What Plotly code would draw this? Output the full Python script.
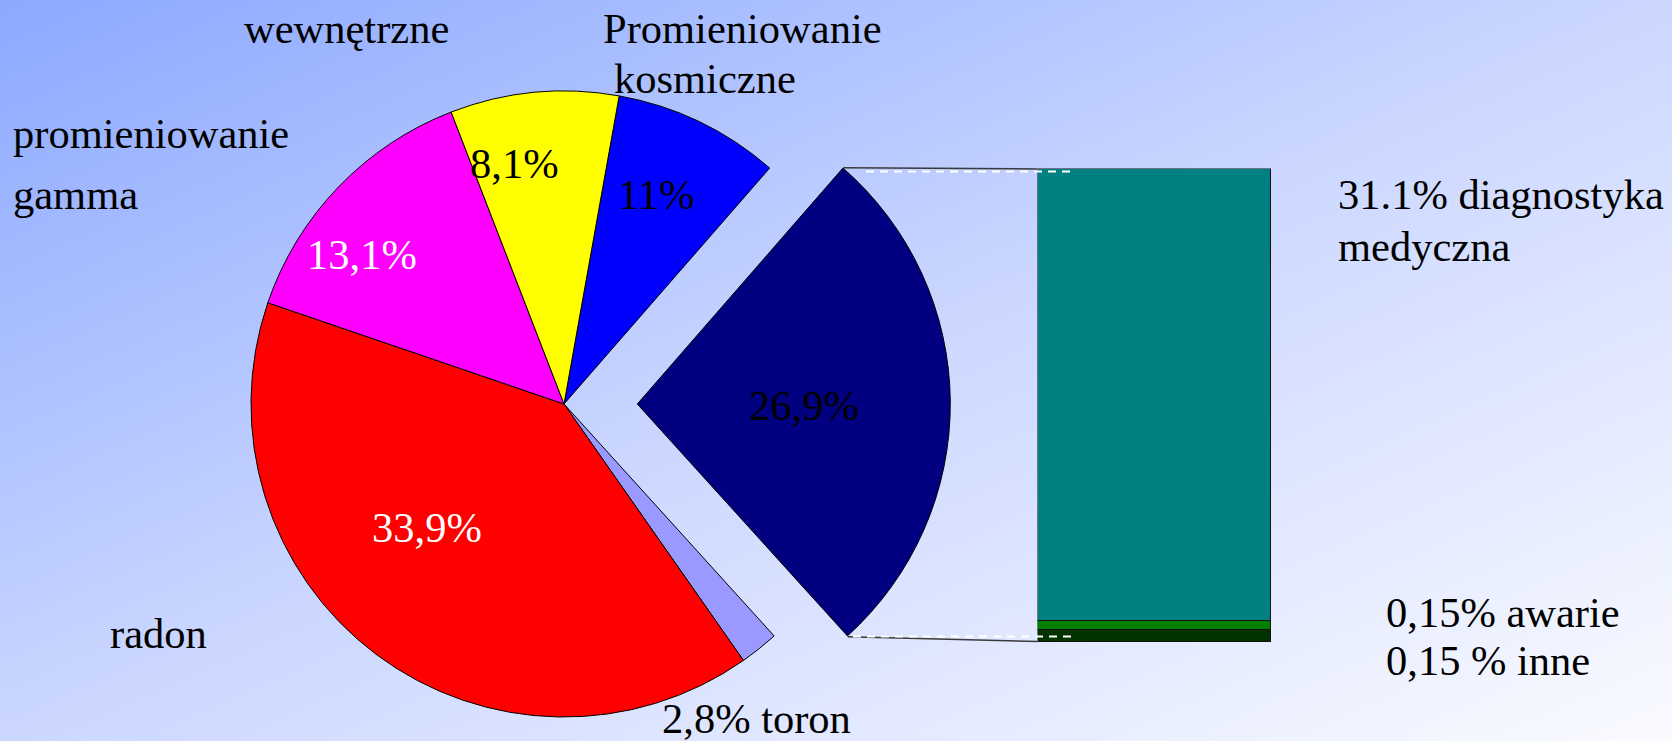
import base64
import plotly.graph_objects as go

W, H = 1672, 741

# ---------------- data ----------------
# pie slices, in clockwise order starting at the top (shares read off the drawn angles)
pie_labels = ["Promieniowanie kosmiczne", "medyczne", "toron", "radon",
              "promieniowanie gamma", "wewnętrzne"]
pie_values = [8.6, 26.9, 2.0, 40.0, 13.9, 8.7]
pie_texts = ["11%", "26,9%", "2,8%", "33,9%", "13,1%", "8,1%"]
exploded_label = "medyczne"

# bar of the exploded slice, bottom to top (heights)
bar_labels = ["inne", "awarie", "diagnostyka medyczna"]
bar_values = [2.7, 1.8, 95.5]

# outer text labels
outer_texts = ["wewnętrzne", "Promieniowanie", "kosmiczne", "promieniowanie", "gamma",
               "radon", "2,8% toron", "31.1% diagnostyka", "medyczna",
               "0,15% awarie", "0,15 % inne"]

# ---------------- styles ----------------
pie_colors = ["#0000FF", "#000080", "#9999FF", "#FF0000", "#FF00FF", "#FFFF00"]
pie_text_colors = ["black", "black", "black", "white", "white", "black"]
bar_colors = ["#003300", "#008000", "#008080"]
FONT = "Liberation Serif"
FS = 42.5


def px(x, y):
    return x / W, 1 - y / H


fig = go.Figure()

# pie geometry (pixels)
cx, cy, r = 564, 404, 313
pull_px = 73.3
ex = pie_labels.index(exploded_label)
n = len(pie_values)
TR = "rgba(0,0,0,0)"


def pie_domain(cxp):
    return dict(x=[(cxp - r) / W, (cxp + r) / W], y=[1 - (cy + r) / H, 1 - (cy - r) / H])


# main pie without the exploded slice
fig.add_trace(go.Pie(
    labels=pie_labels, values=pie_values, sort=False, direction="clockwise", rotation=10.15,
    marker=dict(colors=[TR if i == ex else c for i, c in enumerate(pie_colors)],
                line=dict(color="black", width=[0 if i == ex else 1 for i in range(n)])),
    textinfo="none", hoverinfo="skip", showlegend=False, domain=pie_domain(cx)))

# exploded slice
fig.add_trace(go.Pie(
    labels=pie_labels, values=pie_values, sort=False, direction="clockwise", rotation=10.15,
    marker=dict(colors=[c if i == ex else TR for i, c in enumerate(pie_colors)],
                line=dict(color="black", width=[1 if i == ex else 0 for i in range(n)])),
    textinfo="none", hoverinfo="skip", showlegend=False, domain=pie_domain(cx + pull_px)))

# stacked bar
for lab, v, c in zip(bar_labels, bar_values, bar_colors):
    fig.add_trace(go.Bar(x=[0], y=[v], name=lab, width=1,
                         marker=dict(color=c, line=dict(color="#101010", width=1.3)),
                         hoverinfo="skip", showlegend=False))

bx0, bx1, by0, by1 = 1037.5, 1271, 168.5, 642
fig.update_layout(
    barmode="stack",
    xaxis=dict(domain=[bx0 / W, bx1 / W], range=[-0.5, 0.5], visible=False, fixedrange=True),
    yaxis=dict(domain=[1 - by1 / H, 1 - by0 / H], range=[0, sum(bar_values)], visible=False,
               fixedrange=True),
)

shapes = []
# connector lines
for (x0, y0, x1, y1) in [(843.3, 167.7, bx0, by0 + 0.5), (847.7, 636.7, bx0, by1 - 0.5)]:
    a, b = px(x0, y0)
    c_, d = px(x1, y1)
    shapes.append(dict(type="line", xref="paper", yref="paper", x0=a, y0=b, x1=c_, y1=d,
                       line=dict(color="#3a3a3a", width=1.5)))
# white dashed lines
for (x0, x1, y) in [(866, 1075, 171.5), (853, 1075, 636.5)]:
    a, b = px(x0, y)
    c_, d = px(x1, y)
    shapes.append(dict(type="line", xref="paper", yref="paper", x0=a, y0=b, x1=c_, y1=d,
                       line=dict(color="white", width=2, dash="8px,6px")))

annotations = []


def add_text(text, x, baseline, anchor, color="black"):
    ax, ay = px(x, baseline - 14)
    annotations.append(dict(text=text, x=ax, y=ay, xref="paper", yref="paper", showarrow=False,
                            xanchor=anchor, yanchor="middle",
                            font=dict(family=FONT, size=FS, color=color)))


outer_pos = [(346, 42, "center"), (601, 42, "left"), (612, 92, "left"), (11, 147, "left"),
             (11, 208, "left"), (108, 647, "left"), (660, 732, "left"), (1336, 208, "left"),
             (1336, 261, "left"), (1384, 626, "left"), (1384, 674, "left")]
for t, (x, y, a) in zip(outer_texts, outer_pos):
    add_text(t, x, y, a)

# in-slice labels (toron label is shown outside)
inner_pos = {"11%": (656, 208), "26,9%": (804, 420), "33,9%": (427, 541),
             "13,1%": (362, 268), "8,1%": (514, 178)}
for t, col in zip(pie_texts, pie_text_colors):
    if t in inner_pos:
        x, y = inner_pos[t]
        add_text(t, x, y, "center", col)

svg = (f'<svg xmlns="http://www.w3.org/2000/svg" width="{W}" height="{H}" viewBox="0 0 {W} {H}" '
       f'preserveAspectRatio="none"><defs><linearGradient id="g" x1="0" y1="0" x2="1" y2="1">'
       f'<stop offset="0" stop-color="#8CA9FF"/><stop offset="0.5" stop-color="#CBD7FF"/>'
       f'<stop offset="1" stop-color="#FAFBFF"/></linearGradient></defs>'
       f'<rect width="{W}" height="{H}" fill="url(#g)"/></svg>')
src = "data:image/svg+xml;base64," + base64.b64encode(svg.encode()).decode()

fig.update_layout(
    width=W, height=H, margin=dict(l=0, r=0, t=0, b=0),
    paper_bgcolor="#C8D4FF", plot_bgcolor="rgba(0,0,0,0)",
    shapes=shapes, annotations=annotations,
    images=[dict(source=src, xref="paper", yref="paper", x=0, y=1, sizex=1, sizey=1,
                 xanchor="left", yanchor="top", sizing="stretch", layer="below")],
)

fig.write_html("out.html", config={"displayModeBar": False},
               post_script="document.body.style.margin='0';document.body.style.overflow='hidden';")
